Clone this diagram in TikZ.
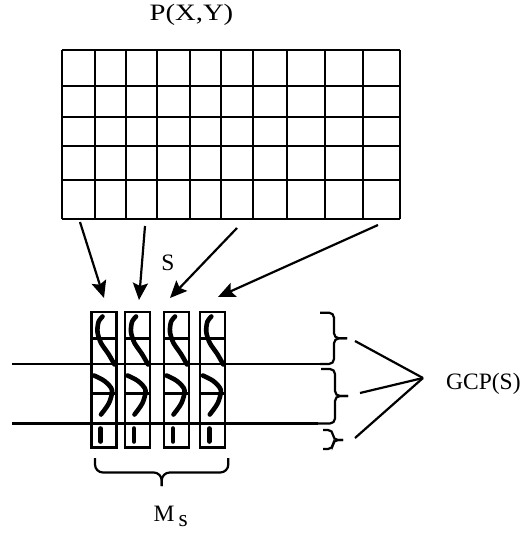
\documentclass[tikz,border=0pt]{standalone}
\usepackage{fontspec}
\setmainfont{Liberation Serif}
\usetikzlibrary{arrows.meta}
\newcommand{\myBrace}[7]{%
  \draw[bracestyle] (#1,#2) -- (#5,#2) -- (#5,#6) -- (#7,#6);
  \draw[bracestyle] (#3,#4) -- (#5,#4) -- (#5,#6) -- (#7,#6);}
\tikzset{
  gridline/.style={line width=2.2pt},
  stripline/.style={line width=2.2pt},
  longline/.style={line width=2.2pt},
  stroke/.style={line width=4.6pt, line cap=round, line join=round},
  bigarrow/.style={line width=2.2pt, -{Stealth[length=17pt,width=15pt,inset=3pt]}},
  bracestyle/.style={line width=2.2pt, rounded corners=5pt},
  thinline/.style={line width=2.2pt},
  lbl/.style={font=\fontsize{23.5}{26}\selectfont, inner sep=0pt}
}
\begin{document}
\begin{tikzpicture}[x=1pt,y=-1pt]
\useasboundingbox[fill=white] (0,0) rectangle (522,533);

% title
\node[lbl, anchor=base] (pxy) at (191.5,20) {\scalebox{1.22}[1]{P(X,Y)}};

% grid
\foreach \yy in {50,86,117,146,180,219}
  \draw[gridline] (62,\yy) -- (400,\yy);
\foreach \xx in {62,95,126,157,190,221,253,287,325,363,400}
  \draw[gridline] (\xx,50) -- (\xx,219);

% strips
\foreach \sx [count=\i] in {91.5,125,164,200.3} {
  \draw[stripline] (\sx,312) rectangle ++(25,135.5);
  \foreach \yy in {338.5,364,393.5,423.5}
    \draw[stripline] (\sx,\yy) -- ++(25,0);
  \draw[stroke] plot[smooth] coordinates {(\sx+11,316.5) (\sx+7,322) (\sx+6,332) (\sx+9.5,343) (\sx+17,354) (\sx+23,364.5)};
  \draw[stroke] plot[smooth] coordinates {(\sx+2.5,375.5) (\sx+13,381) (\sx+20.5,390) (\sx+17.5,403) (\sx+9.5,414.5)};
  \draw[stroke] (\sx+9,428.5) -- (\sx+9,441.5);
}

% long horizontal lines
\draw[longline] (12,364) -- (320,364);
\draw[longline] (12,423.5) -- (318,423.5);

% arrows
\coordinate (a1s) at (80,222);  \coordinate (a1e) at (104,298);
\coordinate (a2s) at (145,226); \coordinate (a2e) at (139,300);
\coordinate (a3s) at (237,228); \coordinate (a3e) at (170,298);
\coordinate (a4s) at (378,225); \coordinate (a4e) at (218,297);
\draw[bigarrow] (a1s) -- (a1e);
\draw[bigarrow] (a2s) -- (a2e);
\draw[bigarrow] (a3s) -- (a3e);
\draw[bigarrow] (a4s) -- (a4e);

\node[lbl, anchor=base] (slbl) at (168,270) {S};

% right braces
\myBrace{320}{312.7}{320}{364}{334}{338.3}{347}
\myBrace{321}{369}{318}{423.5}{335}{396}{348}
\myBrace{323}{430}{323}{449}{333}{440}{343}

% GCP label and lines
\node[lbl, anchor=base west] (gcp) at (446,389) {GCP(S)};
\coordinate (conv) at (423,378);
\coordinate (l1) at (355,341);
\coordinate (l2) at (360,393);
\coordinate (l3) at (355,438);
\draw[thinline] (l1) -- (conv);
\draw[thinline] (l2) -- (conv);
\draw[thinline] (l3) -- (conv);

% bottom brace
\draw[line width=2.2pt, rounded corners=8pt] (95,458) -- (95,472.5) -- (161.7,472.5) -- (161.7,486);
\draw[line width=2.2pt, rounded corners=8pt] (228.3,458) -- (228.3,472.5) -- (161.7,472.5) -- (161.7,486);

\node[lbl, anchor=base west] (ms) at (153.5,521.7) {M\,\raisebox{-5pt}{s}};
\end{tikzpicture}
\end{document}
